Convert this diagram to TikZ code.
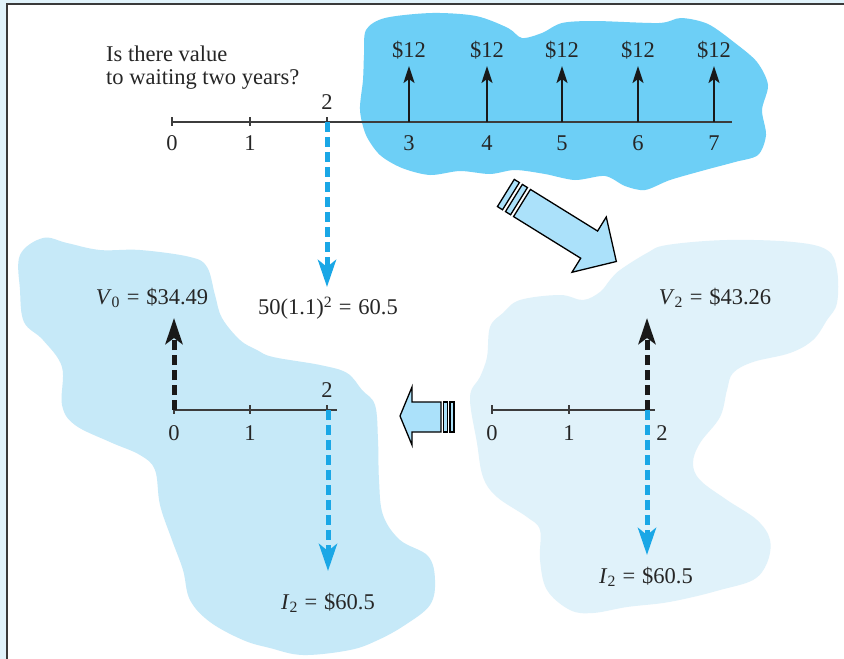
\documentclass[tikz,border=0pt]{standalone}
\usepackage{fontspec}
\setmainfont{Liberation Serif}
\usetikzlibrary{arrows.meta}
\definecolor{bandblue}{HTML}{E1F3FB}
\definecolor{frameline}{HTML}{3A3A3A}
\definecolor{topblob}{HTML}{6DCFF6}
\definecolor{leftblob}{HTML}{C6E9F8}
\definecolor{rightblob}{HTML}{E0F2FA}
\definecolor{arrowfill}{HTML}{ABE1FA}
\definecolor{cyanarrow}{HTML}{1AA7E6}
\definecolor{axisgray}{HTML}{3C3C3C}
\tikzset{
  lbl/.style={inner sep=0pt, font=\fontsize{22.5}{24}\selectfont, text=black!85},
  axisline/.style={draw=axisgray, line width=1.4pt},
  tickmark/.style={draw=axisgray, line width=1.2pt},
  solidup/.style={draw=black!90, line width=2.2pt, -{Stealth[length=17pt,width=11pt,inset=4pt]}},
  blackdash/.style={draw=black!90, line width=5pt, dash pattern=on 10pt off 5pt, -{Stealth[length=26pt,width=17pt,inset=6pt]}},
  bluedash/.style={draw=cyanarrow, line width=5pt, dash pattern=on 10pt off 5pt, -{Stealth[length=27pt,width=18pt,inset=7pt]}},
  bigarrow/.style={fill=arrowfill, draw=black, line width=1.3pt, line join=miter},
}
\begin{document}
\begin{tikzpicture}[x=1pt,y=-1pt]
\useasboundingbox (0,0) rectangle (844,659);
% frame
\fill[bandblue] (0,0) rectangle (844,659);
\fill[white] (7,4) rectangle (844,659);
\draw[frameline, line width=2pt] (7,659) -- (7,4) -- (844,4);

% blobs
\fill[topblob] plot[smooth cycle, tension=0.5] coordinates {
(366,30) (385,18) (432,13) (476,16) (508,28) (522,38) (542,33) (562,23) (595,21)
(659,23) (681,18) (708,24) (735,43) (757,62) (768,85) (762,110) (766,135) (758,155)
(735,162) (705,170) (670,180) (645,190) (625,186) (605,176) (575,180) (545,174)
(515,170) (490,174) (460,171) (430,175) (402,168) (380,155) (366,135) (360,110)
(363,80) (364,55)};
\fill[leftblob] plot[smooth cycle, tension=0.6] coordinates {
(20,255) (43,238) (67,243) (100,250) (140,250) (190,257) (207,267) (215,295)
(222,318) (240,340) (257,350) (273,357) (320,365) (347,373) (362,390) (375,405)
(378,440) (379,480) (383,515) (400,540) (428,556) (435,580) (430,605) (405,625)
(378,640) (350,650) (303,655) (270,648) (243,640) (210,622) (190,600) (183,570)
(172,540) (160,505) (155,470) (140,455) (110,442) (75,425) (62,405) (62,367)
(43,340) (24,322) (20,290)};
\fill[rightblob] plot[smooth cycle, tension=0.6] coordinates {
(647,253) (667,245) (727,240) (793,242) (827,250) (837,270) (837,303) (827,320)
(813,340) (790,353) (753,362) (733,373) (727,390) (720,417) (700,443) (693,463)
(700,480) (727,500) (757,520) (770,540) (767,563) (753,580) (720,590) (693,597)
(663,603) (627,607) (593,613) (570,610) (547,590) (540,560) (540,530) (527,517)
(497,497) (483,477) (477,443) (470,397) (480,377) (487,357) (490,327) (503,313)
(520,300) (560,295) (583,300) (600,292) (610,280) (620,270)};

% big arrow
\begin{scope}[shift={(522,203)}, rotate=-31.8]
\draw[bigarrow] (0,-16) -- (79,-16) -- (79,-32.5) -- (111,0) -- (79,32.5) -- (79,16) -- (0,16) -- cycle;
\draw[bigarrow] (-9.5,-16) rectangle (-3.5,16);
\draw[bigarrow] (-19,-16) rectangle (-13,16);
\end{scope}
% small arrow
\draw[bigarrow] (441,402) -- (412,402) -- (412,387) -- (400,416) -- (412,445) -- (412,432) -- (441,432) -- cycle;
\draw[bigarrow] (443.5,402) rectangle (447.5,432);
\draw[bigarrow] (450,402) rectangle (454,432);

% top timeline
\node[lbl, anchor=west, align=left, font=\fontsize{22.5}{23}\selectfont] (question) at (106,68) {Is there value\\to waiting two years?};
\coordinate (a0) at (172,122);
\coordinate (aend) at (732,122);
\draw[axisline] (a0) -- (aend);
\foreach \x/\n in {172/0,250/1,327/2} {
  \draw[tickmark] (\x,117) -- (\x,126);
}
\node[lbl] (l0) at (172,143) {0};
\node[lbl] (l1) at (250,143) {1};
\node[lbl] (l2) at (327,102) {2};
\foreach \x/\n in {409/3,487/4,562/5,638/6,714/7} {
  \coordinate (p\n) at (\x,122);
  \coordinate (q\n) at (\x,66);
  \draw[solidup] (p\n) -- (q\n);
  \node[lbl] (v\n) at (\x,50) {\$12};
  \node[lbl] (n\n) at (\x,143) {\n};
}
\coordinate (b2) at (327,122);
\coordinate (b2end) at (327,287);
\draw[bluedash] (b2) -- (b2end);
\node[lbl] (fv) at (328,308) {50(1.1)\textsuperscript{2}\hspace{0.3em}=\hspace{0.3em}60.5};

% left timeline
\coordinate (c0) at (174,410);
\coordinate (cend) at (337,410);
\draw[axisline] (c0) -- (cend);
\foreach \x in {174,250,327} { \draw[tickmark] (\x,405) -- (\x,414); }
\node[lbl] (m0) at (174,433) {0};
\node[lbl] (m1) at (250,433) {1};
\node[lbl] (m2) at (327,390) {2};
\coordinate (c0up) at (174,318);
\draw[blackdash] (c0) -- (c0up);
\coordinate (c2) at (328,410);
\coordinate (c2dn) at (328,571);
\draw[bluedash] (c2) -- (c2dn);
\node[lbl] (V0) at (152,298) {\textit{V}\textsubscript{0}\hspace{0.3em}=\hspace{0.3em}\$34.49};
\node[lbl] (I2a) at (328,603) {\textit{I}\textsubscript{2}\hspace{0.3em}=\hspace{0.3em}\$60.5};

% right timeline
\coordinate (d0) at (492,410);
\coordinate (dend) at (655,410);
\draw[axisline] (d0) -- (dend);
\foreach \x in {492,569,647} { \draw[tickmark] (\x,405) -- (\x,414); }
\node[lbl] (r0) at (492,433) {0};
\node[lbl] (r1) at (569,433) {1};
\node[lbl] (r2) at (662,433) {2};
\coordinate (d2) at (647,410);
\coordinate (d2up) at (647,318);
\coordinate (d2dn) at (647,555);
\draw[bluedash] (d2) -- (d2dn);
\draw[blackdash] (d2) -- (d2up);
\node[lbl] (V2) at (715,298) {\textit{V}\textsubscript{2}\hspace{0.3em}=\hspace{0.3em}\$43.26};
\node[lbl] (I2b) at (646,577) {\textit{I}\textsubscript{2}\hspace{0.3em}=\hspace{0.3em}\$60.5};
\end{tikzpicture}
\end{document}
